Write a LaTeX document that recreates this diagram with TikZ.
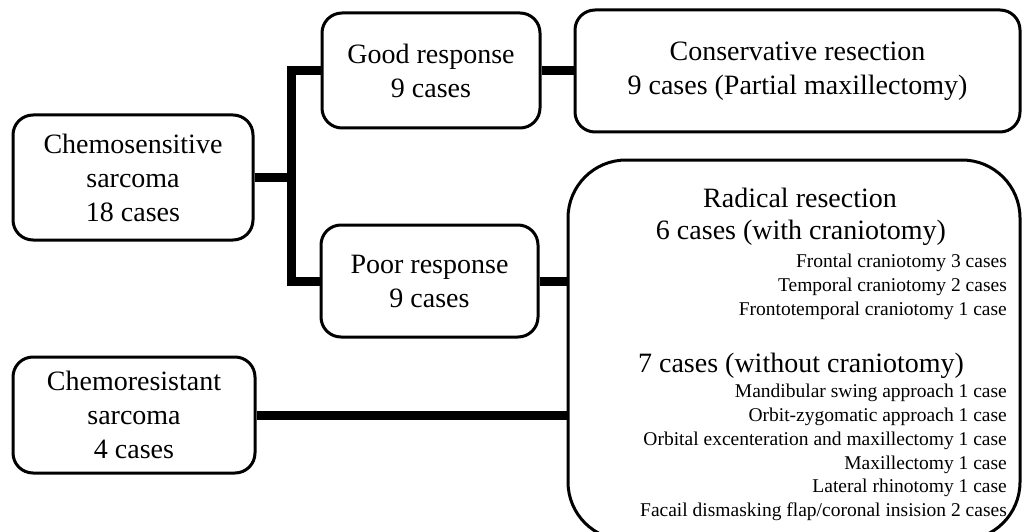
\documentclass[tikz,border=0pt]{standalone}
\usepackage{fontspec}
\setmainfont{Liberation Serif}
\usetikzlibrary{calc}

\begin{document}
\begin{tikzpicture}[x=1pt,y=-1pt,
		box/.style={draw, line width=3pt, rounded corners=20pt, fill=white, align=center,
			inner sep=0pt, font=\fontsize{28}{34}\selectfont},
		link/.style={line width=9pt},
		bigline/.style={font=\fontsize{28}{34}\selectfont},
		smalllines/.style={anchor=east, align=right, inner sep=0pt, font=\fontsize{19.5}{23.8}\selectfont}]
			\useasboundingbox (0,0) rectangle (1022,532);
			
			% connectors first
			\coordinate (fork) at (291,172);
			
			\node[box, minimum width=240pt, minimum height=125pt] (chemo) at (133,177.5) {Chemosensitive\\sarcoma\\18 cases};
			\node[box, minimum width=218pt, minimum height=115pt] (good) at (431,70.5) {Good response\\9 cases};
			\node[box, minimum width=217pt, minimum height=112pt] (poor) at (429.5,281) {Poor response\\9 cases};
			\node[box, minimum width=445pt, minimum height=122pt] (cons) at (797.5,71) {Conservative resection\\9 cases (Partial maxillectomy)};
			\node[box, minimum width=242pt, minimum height=116pt] (resist) at (134,415) {Chemoresistant\\sarcoma\\4 cases};
			\node[box, rounded corners=58pt, minimum width=452pt, minimum height=380pt] (radical) at (794,350) {};
			
			\draw[link] (chemo.east) -- (chemo.east -| fork);
			\draw[link] (good.west) -| (fork) |- (poor.west);
			\draw[link] (good.east) -- (good.east -| cons.west);
			\draw[link] (poor.east) -- (poor.east -| radical.west);
			\draw[link] (resist.east) -- (resist.east -| radical.west);
			
			% text inside the radical box
			\node[bigline] (radtitle) at (800,198) {Radical resection};
			\node[bigline] (withcr) at (801,233) {6 cases (with craniotomy)};
			\node[smalllines] (withlist) at (1007,287) {Frontal craniotomy 3 cases\\Temporal craniotomy 2 cases\\Frontotemporal craniotomy 1 case};
			\node[bigline] (withoutcr) at (801,366) {7 cases (without craniotomy)};
			\node[smalllines] (withoutlist) at (1007,452.5) {Mandibular swing approach 1 case\\Orbit-zygomatic approach 1 case\\Orbital excenteration and maxillectomy 1 case\\Maxillectomy 1 case\\Lateral rhinotomy 1 case\\Facail dismasking flap/coronal insision 2 cases};
			
		\end{tikzpicture}
\end{document}
